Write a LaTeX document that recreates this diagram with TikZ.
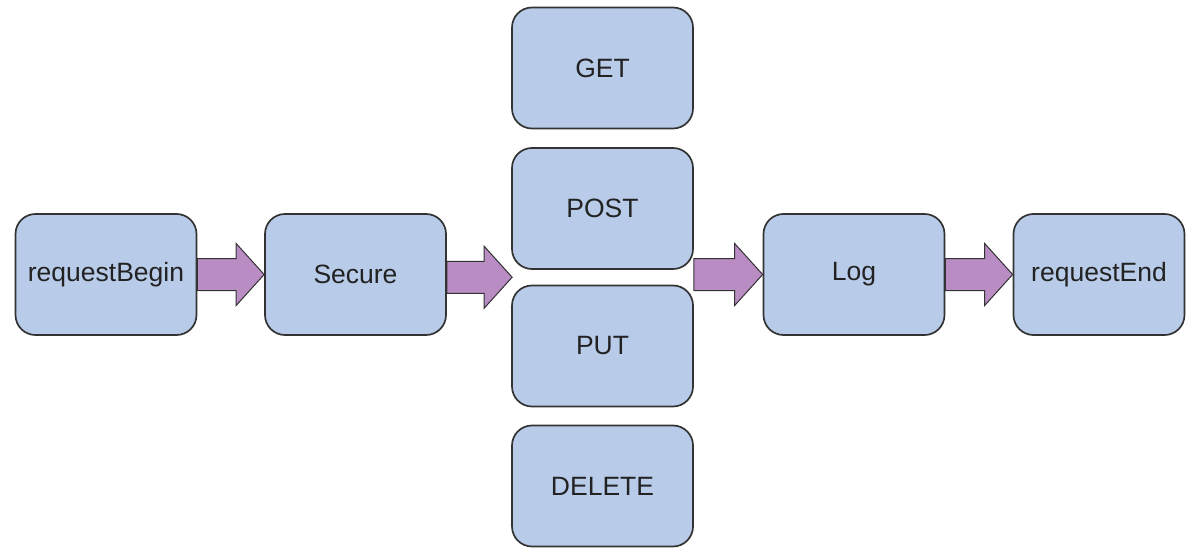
\documentclass[tikz,border=0pt]{standalone}
\usepackage{fontspec}
\setmainfont{Liberation Sans}
\usetikzlibrary{calc,backgrounds}
\definecolor{boxfill}{HTML}{B8CCEA}
\definecolor{boxline}{HTML}{333333}
\definecolor{arrowfill}{HTML}{B98CC3}
\definecolor{txt}{HTML}{222222}
\tikzset{
  stage/.style={rectangle, rounded corners=20pt, draw=boxline, line width=1.7pt,
    fill=boxfill, minimum width=181pt, minimum height=121pt, inner sep=0pt,
    text=txt, font=\fontsize{26.5}{30}\selectfont},
  blockarrow/.style={fill=arrowfill, draw=boxline, line width=1pt, line join=miter}
}
\newcommand\fatarrow[2]{%
  \draw[blockarrow] ($(#1 |- #2)+(0,-16)$) -- ($(#2)+(-28,-16)$) -- ($(#2)+(-28,-31)$)
    -- (#2) -- ($(#2)+(-28,31)$) -- ($(#2)+(-28,16)$) -- ($(#1 |- #2)+(0,16)$) -- cycle;}
\begin{document}
\begin{tikzpicture}[x=1pt,y=-1pt]
\useasboundingbox (0,0) rectangle (1186,548);
\node[stage] (rb) at (106,274.5) {requestBegin};
\node[stage] (sec) at (355.5,274.5) {Secure};
\node[stage] (get) at (602.5,68) {GET};
\node[stage] (post) at (602.5,208.5) {POST};
\node[stage] (put) at (602.5,346) {PUT};
\node[stage] (del) at (602.5,486) {DELETE};
\node[stage] (log) at (854,274.5) {Log};
\node[stage, minimum width=171pt] (re) at (1099,274.5) {requestEnd};
\coordinate (split) at ($(post.south west)!0.5!(put.north west)+(1,0)$);
\coordinate (join) at ($(post.south east)!0.5!(put.north east)$);
\begin{scope}[on background layer]
\fatarrow{rb.east}{sec.west}
\fatarrow{sec.east}{split}
\fatarrow{join}{log.west}
\fatarrow{log.east}{re.west}
\end{scope}
\end{tikzpicture}
\end{document}
